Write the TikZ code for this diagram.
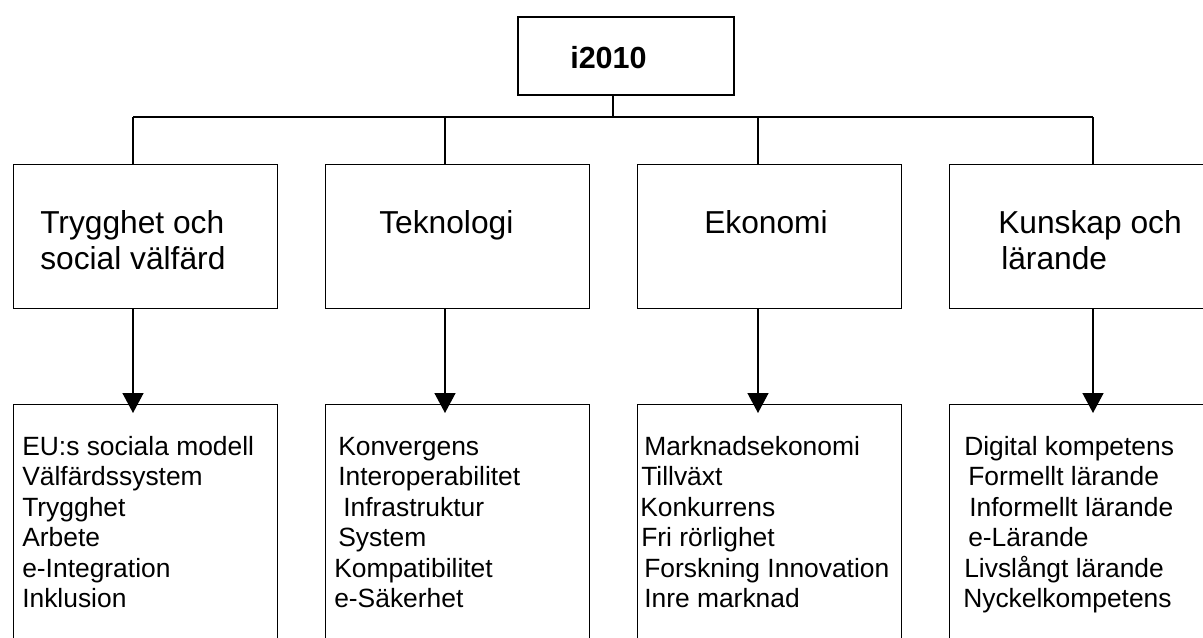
\documentclass[tikz,border=0pt]{standalone}
\usepackage{fontspec}
\setmainfont{Liberation Sans}
\usetikzlibrary{positioning}
\usetikzlibrary{calc}
\usetikzlibrary{arrows.meta}
\tikzset{
	every node/.style = {inner sep=0pt},
	topbox/.style = {draw, line width=1.4pt, minimum width=162pt, minimum height=58.5pt, anchor=north west},
	catbox/.style = {draw, line width=1.1pt, minimum width=198pt, minimum height=108pt, anchor=north west},
	listbox/.style = {draw, line width=1.1pt, minimum width=198pt, minimum height=200pt, anchor=north west},
	toptext/.style = {anchor=base west, font=\bfseries\fontsize{22.9}{27}\selectfont},
	cattext/.style = {anchor=base west, font=\fontsize{23.8}{27}\selectfont},
	listtext/.style = {anchor=base west, font=\fontsize{19.8}{23}\selectfont},
	link/.style = {line width=1.1pt},
	arrow/.style = {link, -{Triangle[width=15.75pt,length=15pt]}, shorten >=-6.75pt}
}
\begin{document}
\begin{tikzpicture}[x=0.75pt, y=0.75pt]
		\path[use as bounding box, clip] (0,0) rectangle (1203,-637);
		% top
		\node[topbox] (top) at (517,-16) {};
		\node[toptext] (toplabel) at ($(top.north west)+(53,-52.3)$) {i2010};
		% level 1
		\node[catbox] (m1) at (13,-164) {};
		\node[catbox] (m2) at (325,-164) {};
		\node[catbox] (m3) at (637,-164) {};
		\node[catbox] (m4) at (949,-164) {};
		\node[cattext] (m1a) at ($(m1.north west)+(27,-69)$) {Trygghet och};
		\node[cattext] (m1b) at ($(m1.north west)+(27,-105)$) {social välfärd};
		\node[cattext] (m2a) at ($(m2.north west)+(54,-69)$) {Teknologi};
		\node[cattext] (m3a) at ($(m3.north west)+(67,-69)$) {Ekonomi};
		\node[cattext] (m4a) at ($(m4.north west)+(49,-69)$) {Kunskap och};
		\node[cattext] (m4b) at ($(m4.north west)+(52,-105)$) {lärande};
		% level 2
		\node[listbox] (l1) at (13,-404) {};
		\node[listbox] (l2) at (325,-404) {};
		\node[listbox] (l3) at (637,-404) {};
		\node[listbox] (l4) at (949,-404) {};
		\foreach \dx/\t [count=\i] in {9/EU:s sociala modell, 9/Välfärdssystem, 9/Trygghet, 9/Arbete, 9/e-Integration, 9/Inklusion}
			\node[listtext] (l1-\i) at ($(l1.north west)+(\dx,{-20.5-30.5*\i})$) {\t};
		\foreach \dx/\t [count=\i] in {13/Konvergens, 13/Interoperabilitet, 18/Infrastruktur, 13/System, 9/Kompatibilitet, 9/e-Säkerhet}
			\node[listtext] (l2-\i) at ($(l2.north west)+(\dx,{-20.5-30.5*\i})$) {\t};
		\foreach \dx/\t [count=\i] in {7/Marknadsekonomi, 4/Tillväxt, 3/Konkurrens, 4/Fri rörlighet, 7/Forskning Innovation, 7/Inre marknad}
			\node[listtext] (l3-\i) at ($(l3.north west)+(\dx,{-20.5-30.5*\i})$) {\t};
		\foreach \dx/\t [count=\i] in {15/Digital kompetens, 19/Formellt lärande, 20/Informellt lärande, 19/e-Lärande, 15/Livslångt lärande, 14/Nyckelkompetens}
			\node[listtext] (l4-\i) at ($(l4.north west)+(\dx,{-20.5-30.5*\i})$) {\t};
		% connectors
		\coordinate (hub) at (613,-117);
		\coordinate (d1) at (133,-117);
		\coordinate (d2) at (445,-117);
		\coordinate (d3) at (758,-117);
		\coordinate (d4) at (1093,-117);
		\draw[link] (hub |- top.south) -- (hub);
		\draw[link] (d1) -- (d4);
		\foreach \i in {1,...,4} {
			\draw[link] (d\i) -- (d\i |- m\i.north);
			\draw[arrow] (d\i |- m\i.south) -- (d\i |- l\i.north);
		}
	\end{tikzpicture}
\end{document}
